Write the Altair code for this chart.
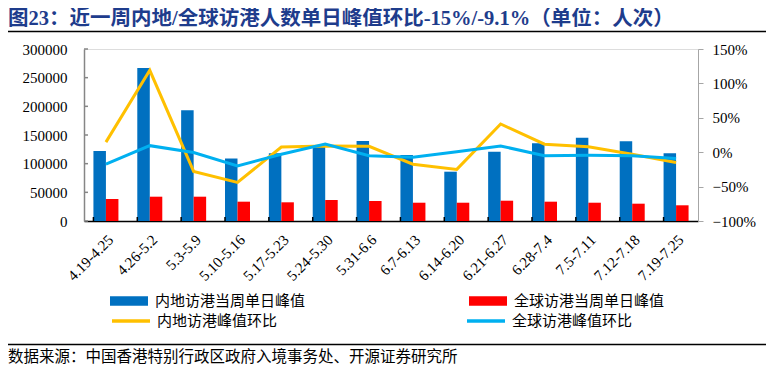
import altair as alt
import pandas as pd

weeks = ["4.19-4.25", "4.26-5.2", "5.3-5.9", "5.10-5.16", "5.17-5.23", "5.24-5.30",
         "5.31-6.6", "6.7-6.13", "6.14-6.20", "6.21-6.27", "6.28-7.4", "7.5-7.11",
         "7.12-7.18", "7.19-7.25"]
mainland_peak = [122000, 267000, 193000, 109000, 118000, 130000, 139500,
                 115000, 86000, 121000, 135500, 145000, 139000, 118000]
global_peak = [38400, 42400, 42400, 33700, 32600, 36600, 34900,
               31900, 31900, 35400, 33700, 31900, 30200, 27400]
mainland_chg = [14.6, 119.0, -28.0, -44.0, 7.5, 9.0, 8.5,
                -17.5, -25.0, 41.0, 11.7, 8.0, -3.0, -15.0]
global_chg = [-17.5, 9.5, -0.5, -20.0, -3.0, 11.7, -5.0,
              -7.5, 0.5, 9.0, -5.0, -4.5, -5.3, -9.1]
left_ticks = [0, 50000, 100000, 150000, 200000, 250000, 300000]
right_ticks = [-1.0, -0.5, 0.0, 0.5, 1.0, 1.5]

bar_names = ["内地访港当周单日峰值", "全球访港当周单日峰值"]
line_names = ["内地访港峰值环比", "全球访港峰值环比"]
bar_colors = ["#0070C0", "#FF0000"]
line_colors = ["#FFC000", "#00B0F0"]

title_text = "图23：近一周内地/全球访港人数单日峰值环比-15%/-9.1%（单位：人次）"
source_text = "数据来源：中国香港特别行政区政府入境事务处、开源证券研究所"

bar_df = pd.DataFrame({
    "week": weeks * 2,
    "series": [bar_names[0]] * len(weeks) + [bar_names[1]] * len(weeks),
    "value": mainland_peak + global_peak,
})
line_df = pd.DataFrame({
    "week": weeks * 2,
    "series": [line_names[0]] * len(weeks) + [line_names[1]] * len(weeks),
    "pct": [v / 100 for v in mainland_chg + global_chg],
})
week_df = pd.DataFrame({"week": weeks})
lt_df = pd.DataFrame({"value": left_ticks})

W, H = 614, 172
SERIF = "Liberation Serif"
CJK = "Noto Sans CJK SC"
MIX = "Liberation Serif, Noto Sans CJK SC"

x_axis = alt.Axis(title=None, labelAngle=-45, labelFont=SERIF, labelFontSize=15,
                  labelColor="black", domainColor="black", domainWidth=1.5,
                  tickSize=0, tickOpacity=0, labelPadding=11, labels=True)
x_scale = alt.Scale(paddingInner=0.43, paddingOuter=0.215)

bars = alt.Chart(bar_df).mark_bar().encode(
    x=alt.X("week:N", sort=weeks, scale=x_scale, axis=x_axis),
    xOffset=alt.XOffset("series:N", sort=bar_names,
                        scale=alt.Scale(paddingInner=0, paddingOuter=0)),
    y=alt.Y("value:Q", scale=alt.Scale(domain=[0, 300000], nice=False, zero=True),
            axis=alt.Axis(title=None, values=left_ticks, format="d", labelFont=SERIF,
                          labelFontSize=15, labelColor="black", domainColor="#868686",
                          domainWidth=1.5, ticks=False, labelPadding=17, grid=False)),
    fill=alt.Fill("series:N", sort=bar_names,
                  scale=alt.Scale(domain=bar_names, range=bar_colors),
                  legend=alt.Legend(title=None, orient="none", legendX=26, legendY=233,
                                    direction="horizontal",
                                    symbolType="M-1,-0.25H1V0.25H-1Z", symbolSize=1444,
                                    symbolStrokeWidth=0, labelFont=CJK, labelFontSize=15,
                                    labelColor="black", labelOffset=7, columnPadding=163,
                                    padding=0, labelLimit=400)),
)

left_tick_rules = alt.Chart(lt_df).mark_rule(color="#868686", strokeWidth=1.5).encode(
    y=alt.Y("value:Q", scale=alt.Scale(domain=[0, 300000], nice=False, zero=True), axis=None),
    x=alt.value(0), x2=alt.value(4),
)

x_tick_rules = alt.Chart(week_df).mark_rule(color="black", strokeWidth=1.5).encode(
    x=alt.X("week:N", sort=weeks, bandPosition=0, scale=x_scale, axis=x_axis),
    y=alt.value(H), y2=alt.value(H - 4),
)

title_mark = alt.Chart(pd.DataFrame({"t": [title_text]})).mark_text(
    align="left", baseline="middle", font=MIX, fontSize=20.5, fontWeight="bold",
    color="#1E3C8C").encode(text="t:N", x=alt.value(-76), y=alt.value(-30.5))

source_mark = alt.Chart(pd.DataFrame({"t": [source_text]})).mark_text(
    align="left", baseline="middle", font=CJK, fontSize=15.5, color="black"
).encode(text="t:N", x=alt.value(-76), y=alt.value(307.5))

top_line = alt.Chart(pd.DataFrame({"a": [0]})).mark_rule(color="black", strokeWidth=1.5).encode(
    x=alt.value(-80), x2=alt.value(700), y=alt.value(-17.5))
bottom_line = alt.Chart(pd.DataFrame({"a": [0]})).mark_rule(color="black", strokeWidth=1.5).encode(
    x=alt.value(-80), x2=alt.value(700), y=alt.value(295.5))

lines = alt.Chart(line_df).mark_line(strokeWidth=3).encode(
    x=alt.X("week:N", sort=weeks, scale=x_scale, axis=x_axis),
    y=alt.Y("pct:Q", scale=alt.Scale(domain=[-1, 1.5], nice=False),
            axis=alt.Axis(title=None, orient="right", values=right_ticks, format=".0%",
                          labelFont=SERIF, labelFontSize=15, labelColor="black",
                          domainColor="#A6A6A6", domainWidth=1, tickColor="#A6A6A6",
                          tickSize=5, labelPadding=9, grid=False)),
    stroke=alt.Stroke("series:N", sort=line_names,
                      scale=alt.Scale(domain=line_names, range=line_colors),
                      legend=alt.Legend(title=None, orient="none", legendX=26, legendY=251,
                                        direction="horizontal", symbolType="stroke",
                                        symbolSize=1444, symbolStrokeWidth=3.5,
                                        labelFont=CJK, labelFontSize=15, labelColor="black",
                                        labelOffset=5, columnPadding=182, padding=0,
                                        labelLimit=400)),
)

chart = alt.layer(bars, left_tick_rules, lines, x_tick_rules, title_mark, source_mark,
                  top_line, bottom_line).resolve_scale(y="independent").properties(
    width=W, height=H,
    padding={"left": 76, "top": 41, "right": 68, "bottom": 145},
    autosize=alt.AutoSizeParams(type="none"),
).configure_view(stroke=None).configure(background="white")

chart.save("out.html", embed_options={"renderer": "svg", "actions": False})
